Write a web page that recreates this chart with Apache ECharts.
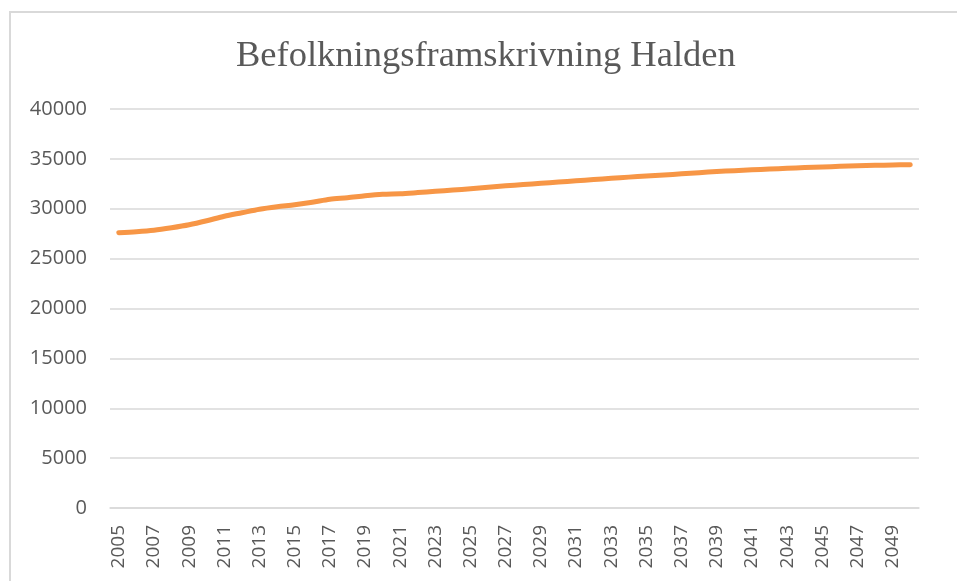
<!DOCTYPE html>
<html>
<head>
<meta charset="utf-8">
<script src="https://cdn.jsdelivr.net/npm/echarts@6/dist/echarts.min.js"></script>
<style>
  html, body { margin: 0; padding: 0; background: #fff; }
  #chart { width: 957px; height: 581px; }
</style>
</head>
<body>
<div id="chart"></div>
<script>
// år 2005-2050
const years = [];
for (let y = 2005; y <= 2050; y++) years.push(String(y));

// befolkning
const population = [
  27600, 27700, 27850, 28100, 28400, 28800, 29250, 29600, 29950, 30200,
  30400, 30650, 30950, 31100, 31300, 31450, 31500, 31620, 31750, 31880,
  32000, 32150, 32300, 32420, 32550, 32680, 32800, 32930, 33050, 33170,
  33280, 33390, 33500, 33620, 33730, 33820, 33900, 33980, 34060, 34130,
  34190, 34250, 34300, 34350, 34390, 34420
];

const yTicks = { min: 0, max: 40000, interval: 5000 };

const chart = echarts.init(document.getElementById('chart'));

const option = {
  animation: false,
  title: {
    text: 'Befolkningsframskrivning Halden',
    left: 231,
    top: 33,
    textStyle: {
      fontFamily: 'Liberation Serif',
      fontSize: 36.5,
      fontWeight: 'normal',
      color: '#595959'
    }
  },
  graphic: [{
    type: 'rect',
    shape: { x: 10, y: 12, width: 960, height: 590 },
    style: { fill: 'none', stroke: '#d9d9d9', lineWidth: 2 },
    silent: true
  }],
  grid: { left: 110, right: 38, top: 109, bottom: 73 },
  xAxis: {
    type: 'category',
    data: years,
    boundaryGap: true,
    axisLine: { lineStyle: { color: '#d9d9d9', width: 1.5 } },
    axisTick: { show: false },
    axisLabel: {
      interval: 1,
      rotate: 90,
      margin: 17,
      color: '#595959',
      fontFamily: 'Open Sans',
      fontSize: 19
    }
  },
  yAxis: {
    type: 'value',
    min: yTicks.min,
    max: yTicks.max,
    interval: yTicks.interval,
    axisLine: { show: false },
    axisTick: { show: false },
    splitLine: { lineStyle: { color: '#d9d9d9', width: 1.5 } },
    axisLabel: {
      margin: 23,
      color: '#595959',
      fontFamily: 'Open Sans',
      fontSize: 20,
      formatter: (v) => String(v)
    }
  },
  series: [{
    type: 'line',
    data: population,
    smooth: 0.3,
    showSymbol: false,
    lineStyle: { color: '#F79646', width: 5, cap: 'round', join: 'round' },
    itemStyle: { color: '#F79646' }
  }]
};

chart.setOption(option);
</script>
</body>
</html>
